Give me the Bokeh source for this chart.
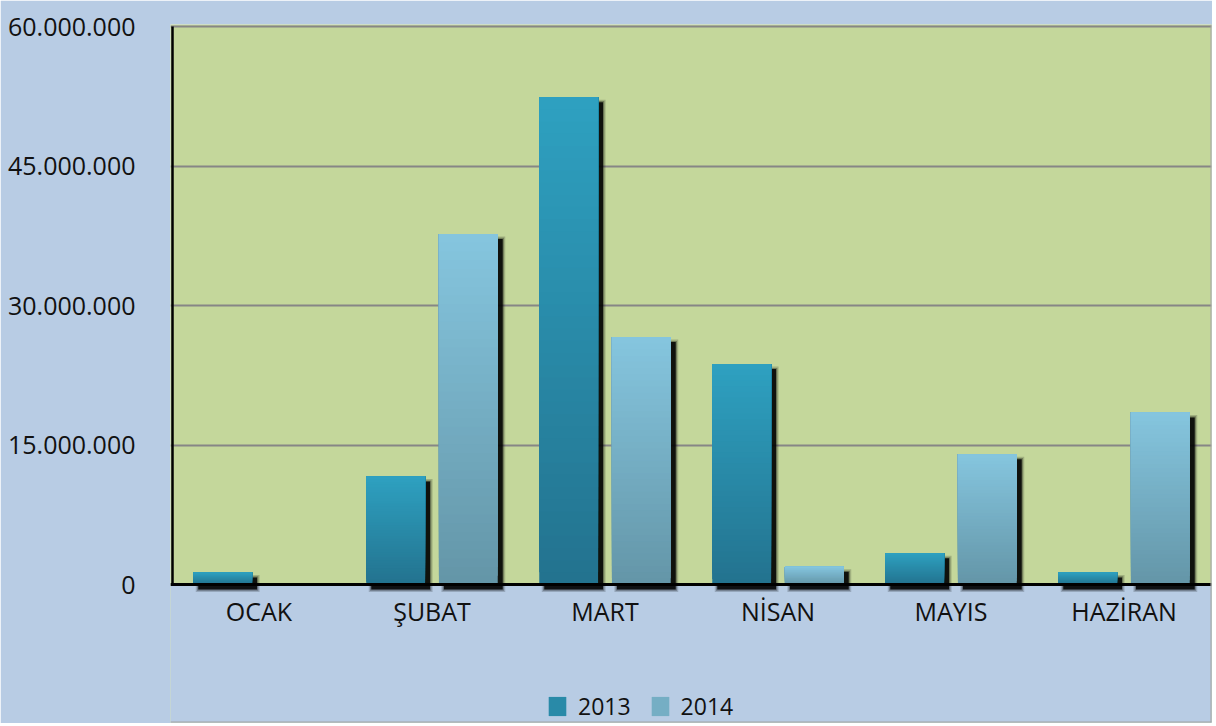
from bokeh.plotting import figure
from bokeh.models import FixedTicker, BoxAnnotation, Legend, LegendItem, ColumnDataSource, Range1d, Span
from bokeh.core.properties import value
from bokeh.embed import file_html
from bokeh.resources import INLINE

# ---- data ----
months = ["OCAK", "ŞUBAT", "MART", "NİSAN", "MAYIS", "HAZİRAN"]
years = ["2013", "2014"]
v2013 = [1_300_000, 11_600_000, 52_400_000, 23_700_000, 3_350_000, 1_300_000]
v2014 = [0, 37_700_000, 26_600_000, 1_900_000, 14_000_000, 18_500_000]
y_ticks = [0, 15_000_000, 30_000_000, 45_000_000, 60_000_000]
y_tick_labels = ["0", "15.000.000", "30.000.000", "45.000.000", "60.000.000"]

# ---- style ----
BG = "#b8cce4"
PLOT_BG = "#c4d79b"
GRID = "#868686"
BORDER = "#a3a3a3"
TXT = "#111111"
FONT = "Open Sans"
COL_2013 = ((35, 115, 143), (46, 160, 192))   # bottom, top
COL_2014 = ((100, 150, 168), (133, 197, 222))

W, H = 1212, 723
PX_PER_CAT = 173.0
PX_PER_Y = 558 / 60_000_000
ux = 1 / PX_PER_CAT
uy = 1 / PX_PER_Y
YMAX = y_ticks[-1]
X0, X1 = -2 * ux, len(months) + 1 * ux
Y0, Y1 = -138 * uy, YMAX + 2 * uy

p = figure(width=W, height=H, output_backend="svg", toolbar_location=None,
           x_range=Range1d(X0, X1), y_range=Range1d(Y0, Y1),
           min_border_left=170, min_border_right=1, min_border_top=24, min_border_bottom=1)
p.background_fill_color = PLOT_BG
p.border_fill_color = BG
p.outline_line_color = None

# band below zero painted as the chart background (extends past the frame edges)
p.add_layout(BoxAnnotation(left=X0 - 1, right=X1 + 1, bottom=Y0 - YMAX, top=0,
                           fill_color=BG, fill_alpha=1, line_color=None, level="underlay"))

# grid
p.xgrid.visible = False
p.ygrid.ticker = FixedTicker(ticks=y_ticks)
p.ygrid.grid_line_color = GRID
p.ygrid.grid_line_width = 2

# y axis
p.yaxis.ticker = FixedTicker(ticks=y_ticks)
p.yaxis.major_label_overrides = {t: l for t, l in zip(y_ticks, y_tick_labels)}
p.yaxis.axis_line_color = None
p.yaxis.major_tick_line_color = None
p.yaxis.minor_tick_line_color = None
p.yaxis.major_label_standoff = 29
p.yaxis.major_label_text_font = FONT
p.yaxis.major_label_text_font_size = "25px"
p.yaxis.major_label_text_color = TXT

# x axis labels drawn inside the frame
p.xaxis.visible = False
xt = [i + 0.5 for i in range(len(months))]
p.text(x=xt, y=[-26 * uy] * len(months), text=months, text_align="center", text_baseline="middle",
       text_font=value(FONT), text_font_size="25px", text_color=TXT)

BW = 0.34
OFFS = [-0.21, 0.21]
N = 40


def lerp(c0, c1, t):
    return "#%02x%02x%02x" % tuple(int(round(a + (b - a) * t)) for a, b in zip(c0, c1))


# shadows
for vals, off in zip([v2013, v2014], OFFS):
    for e, a in [(2.5, 0.18), (1.2, 0.3), (0, 0.85)]:
        L, R, B, T = [], [], [], []
        for i, v in enumerate(vals):
            if v <= 0:
                continue
            cx = i + 0.5 + off
            L.append(cx - BW / 2 + 5 * ux - e * ux)
            R.append(cx + BW / 2 + 5 * ux + e * ux)
            B.append(-5 * uy - e * uy)
            T.append(v - 5 * uy + e * uy)
        p.quad(left=L, right=R, bottom=B, top=T, fill_color="black", fill_alpha=a, line_color=None)

# gradient bars
renderers = []
for vals, off, (cb, ct) in zip([v2013, v2014], OFFS, [COL_2013, COL_2014]):
    d = dict(left=[], right=[], bottom=[], top=[], color=[])
    for i, v in enumerate(vals):
        if v <= 0:
            continue
        cx = i + 0.5 + off
        for k in range(N):
            d["left"].append(cx - BW / 2)
            d["right"].append(cx + BW / 2)
            d["bottom"].append(v * k / N)
            d["top"].append(v)
            d["color"].append(lerp(cb, ct, k / (N - 1)))
    r = p.quad(left="left", right="right", bottom="bottom", top="top", fill_color="color",
               line_color=None, source=ColumnDataSource(d))
    renderers.append(r)

# axis lines
p.add_layout(Span(location=0, dimension="width", line_color="black", line_width=3))
p.segment(x0=[0], y0=[0], x1=[0], y1=[YMAX], line_color="black", line_width=2.5)

# outer border (right, bottom)
p.add_layout(Span(location=X1, dimension="height", line_color=BORDER, line_width=2))
p.add_layout(Span(location=Y0, dimension="width", line_color=BORDER, line_width=2))

legend = Legend(items=[LegendItem(label=y, renderers=[r], index=N // 2) for y, r in zip(years, renderers)],
                location=(376, 0), orientation="horizontal",
                glyph_width=22, glyph_height=24, label_height=24,
                label_text_font=FONT, label_text_font_size="23px", label_text_color=TXT,
                padding=0, margin=0, spacing=18, label_standoff=10,
                border_line_color=None, background_fill_alpha=0)
p.add_layout(legend)

open("out.html", "w").write(file_html(p, INLINE))
